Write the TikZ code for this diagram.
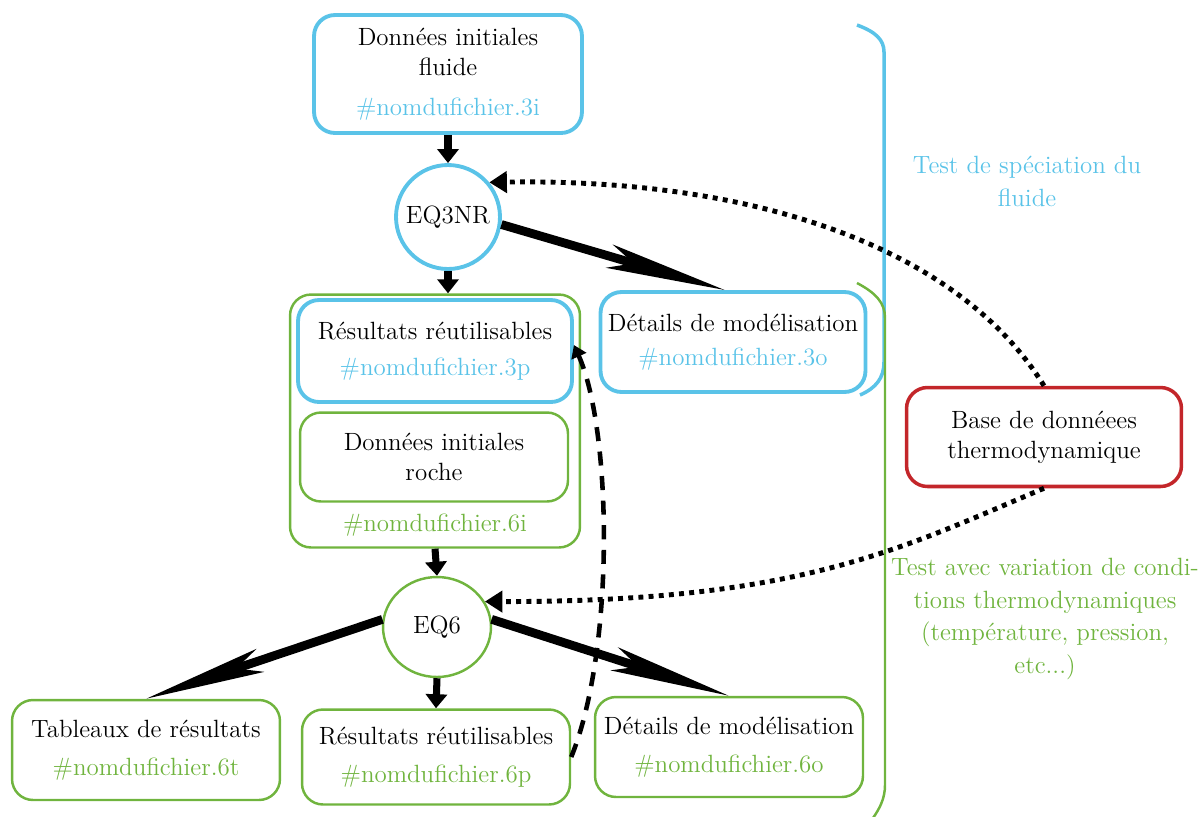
\documentclass[tikz,border=0pt]{standalone}
\usepackage{fontspec}
\usetikzlibrary{arrows.meta,shapes.geometric}
\definecolor{bleuf}{RGB}{90,195,232}
\definecolor{vertr}{RGB}{112,180,62}
\definecolor{rouged}{RGB}{195,38,42}
\tikzset{
  texte/.style={align=center,font=\fontsize{14.2}{18.7}\selectfont},
  boite/.style={rectangle,rounded corners=0.42cm,align=center,font=\fontsize{14.2}{17}\selectfont,inner sep=2pt},
  bleu/.style={boite,draw=bleuf,line width=2.2pt},
  vert/.style={boite,draw=vertr,line width=1.4pt},
  rouge/.style={boite,draw=rouged,line width=2pt},
  fleche/.style={line width=4pt,-{Triangle[length=8pt,width=12pt]}},
  fleche large/.style={line width=5pt,-{Stealth[length=2.4cm,width=0.48cm,inset=0.5cm]}},
  pointille/.style={line width=2.8pt,dash pattern=on 2.8pt off 3pt,-{Triangle[length=10pt,width=12pt]}},
  tirets/.style={line width=2.6pt,dash pattern=on 8pt off 6pt,-{Triangle[length=7pt,width=9pt]}}
}
\begin{document}
\begin{tikzpicture}[x=0.02cm,y=-0.02cm]
  \useasboundingbox (0,0) rectangle (1203,816);

  % Partie EQ3NR (spéciation du fluide)
  \node[bleu,minimum width=5.36cm,minimum height=2.36cm] (fluide) at (448,74) {Données initiales\\fluide\\[5.7pt]\textcolor{bleuf}{\#nomdufichier.3i}};
  \node[bleu,circle,minimum size=2.08cm,inner sep=0pt] (eq3) at (448,217) {EQ3NR};
  \node[bleu,minimum width=5.3cm,minimum height=2cm] (det3o) at (733,342) {Détails de modélisation\\[2.3pt]\textcolor{bleuf}{\#nomdufichier.3o}};

  % Fichier d'entrée de EQ6
  \node[vert,minimum width=5.8cm,minimum height=5.06cm] (cont6i) at (435,421) {};
  \node[bleu,minimum width=5.48cm,minimum height=2.04cm] (res3p) at (435,351) {Résultats réutilisables\\[3.4pt]\textcolor{bleuf}{\#nomdufichier.3p}};
  \node[vert,minimum width=5.36cm,minimum height=1.78cm] (roche) at (434,457) {Données initiales\\roche};
  \node[texte,text=vertr] (lbl6i) at (435,525) {\#nomdufichier.6i};

  % Partie EQ6 et ses sorties
  \node[vert,ellipse,minimum width=2.16cm,minimum height=2cm,inner sep=0pt] (eq6) at (437,627) {EQ6};
  \node[vert,minimum width=5.36cm,minimum height=2cm] (tab6t) at (146,750) {Tableaux de résultats\\[4.5pt]\textcolor{vertr}{\#nomdufichier.6t}};
  \node[vert,minimum width=5.36cm,minimum height=1.9cm] (res6p) at (436,757) {Résultats réutilisables\\[4.5pt]\textcolor{vertr}{\#nomdufichier.6p}};
  \node[vert,minimum width=5.36cm,minimum height=2cm] (det6o) at (729,747) {Détails de modélisation\\[4.5pt]\textcolor{vertr}{\#nomdufichier.6o}};

  % Base de données et légendes
  \node[rouge,minimum width=5.5cm,minimum height=1.98cm] (bdd) at (1044,437) {Base de donnéees\\thermodynamique};
  \node[texte,text=bleuf] (testfl) at (1027,181) {Test de spéciation du\\fluide};
  \node[texte,text=vertr] (testth) at (1045,619) {Test avec variation de condi-\\tions thermodynamiques\\(température, pression,\\etc...)};

  % Accolades
  \draw[bleuf,line width=2pt] (857,25) .. controls (876,32) and (884,40) .. (884,52) -- (884,362) .. controls (884,378) and (876,388) .. (860,395);
  \draw[vertr,line width=1.4pt] (857,283) .. controls (876,293) and (885,303) .. (885,318) -- (885,785) .. controls (885,798) and (880,808) .. (873,818);

  % Flèches
  \draw[fleche] (fluide) -- (eq3);
  \draw[fleche] (eq3.south) -- (cont6i.north -| eq3.south);
  \draw[fleche] (cont6i.south) -- (eq6.north);
  \draw[fleche] (eq6.south) -- (res6p.north);
  \draw[fleche large] (eq3.-8) -- ([xshift=-0.16cm]det3o.north);
  \draw[fleche large] (eq6.172) -- (tab6t.north);
  \draw[fleche large] (eq6.8) -- (det6o.north);

  % Liens avec la base de données
  \draw[pointille] (bdd.north) .. controls (960,250) and (760,178) .. (eq3.40);
  \draw[pointille] (bdd.south) .. controls (900,549) and (800,602) .. (eq6.28);
  \draw[tirets] (res6p.east) .. controls (615,650) and (612,430) .. ([yshift=0.12cm]res3p.east);
\end{tikzpicture}
\end{document}
